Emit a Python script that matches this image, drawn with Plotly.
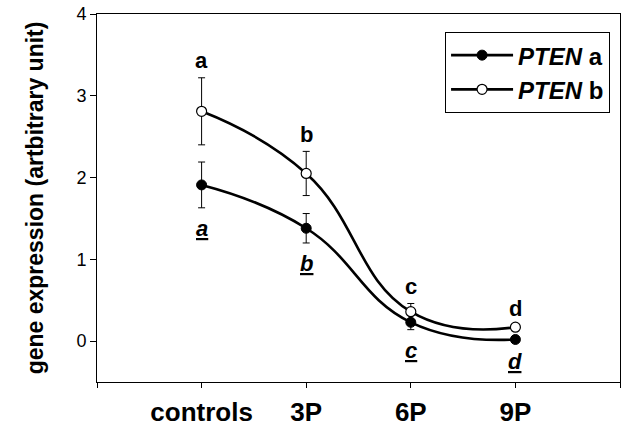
import plotly.graph_objects as go

categories = ["controls", "3P", "6P", "9P"]
x_pos = [1, 2, 3, 4]

pten_a = [1.91, 1.38, 0.23, 0.02]
pten_a_err = [0.28, 0.18, 0.09, 0.02]
pten_b = [2.81, 2.05, 0.36, 0.17]
pten_b_err = [0.41, 0.27, 0.10, 0.02]

letters_b = ["a", "b", "c", "d"]   # above PTEN b
letters_a = ["a", "b", "c", "d"]   # below PTEN a (underlined italic)

FONT = "Liberation Sans, Arial, sans-serif"

fig = go.Figure()

fig.add_trace(go.Scatter(
    x=x_pos, y=pten_a, name="<b><i>PTEN</i> a</b>",
    mode="lines+markers",
    line=dict(color="black", width=2.6, shape="spline", smoothing=1.3),
    marker=dict(symbol="circle", size=10, color="black", line=dict(color="black", width=1)),
    error_y=dict(type="data", array=pten_a_err, visible=True, color="black", thickness=1, width=3.5),
))
fig.add_trace(go.Scatter(
    x=x_pos, y=pten_b, name="<b><i>PTEN</i> b</b>",
    mode="lines+markers",
    line=dict(color="black", width=2.6, shape="spline", smoothing=1.3),
    marker=dict(symbol="circle", size=10, color="white", line=dict(color="black", width=1.2)),
    error_y=dict(type="data", array=pten_b_err, visible=True, color="black", thickness=1, width=3.5),
))

annotations = []
for xi, v, e, t in zip(x_pos, pten_b, pten_b_err, letters_b):
    annotations.append(dict(x=xi, y=v + e + 0.21, text=f"<b>{t}</b>", showarrow=False,
                            font=dict(family=FONT, size=22, color="black"),
                            xanchor="center", yanchor="middle"))
for xi, v, e, t in zip(x_pos, pten_a, pten_a_err, letters_a):
    annotations.append(dict(x=xi, y=v - e - 0.25, text=f"<b><i><u>{t}</u></i></b>", showarrow=False,
                            font=dict(family=FONT, size=22, color="black"),
                            xanchor="center", yanchor="middle"))

fig.update_layout(
    width=628, height=438,
    margin=dict(l=97, r=8, t=14, b=56),
    paper_bgcolor="white", plot_bgcolor="white",
    font=dict(family=FONT, color="black"),
    showlegend=True,
    legend=dict(x=0.981, y=0.951, xanchor="right", yanchor="top",
                bordercolor="black", borderwidth=1, bgcolor="white",
                font=dict(family=FONT, size=24, color="black"),
                itemwidth=62, tracegroupgap=0),
    annotations=annotations,
    xaxis=dict(range=[0, 5], tickvals=[0, 1, 2, 3, 4, 5],
               ticktext=[""] + [f"<b>{c}</b>" for c in categories] + [""],
               ticks="outside", ticklen=5, tickwidth=1, tickcolor="black",
               showline=True, linecolor="black", linewidth=1, mirror=True,
               showgrid=False, zeroline=False, automargin=False,
               tickfont=dict(family=FONT, size=26, color="black"),
               ticklabelstandoff=2),
    yaxis=dict(range=[-0.5, 4], tickvals=[0, 1, 2, 3, 4],
               ticks="outside", ticklen=6, tickwidth=1, tickcolor="black",
               showline=True, linecolor="black", linewidth=1, mirror=True,
               showgrid=False, zeroline=False, automargin=False,
               tickfont=dict(family=FONT, size=18, color="black"),
               title=dict(text="<b>gene expression (artbitrary unit)</b>",
                          font=dict(family=FONT, size=23, color="black"), standoff=26)),
)

fig.write_html("out.html")
